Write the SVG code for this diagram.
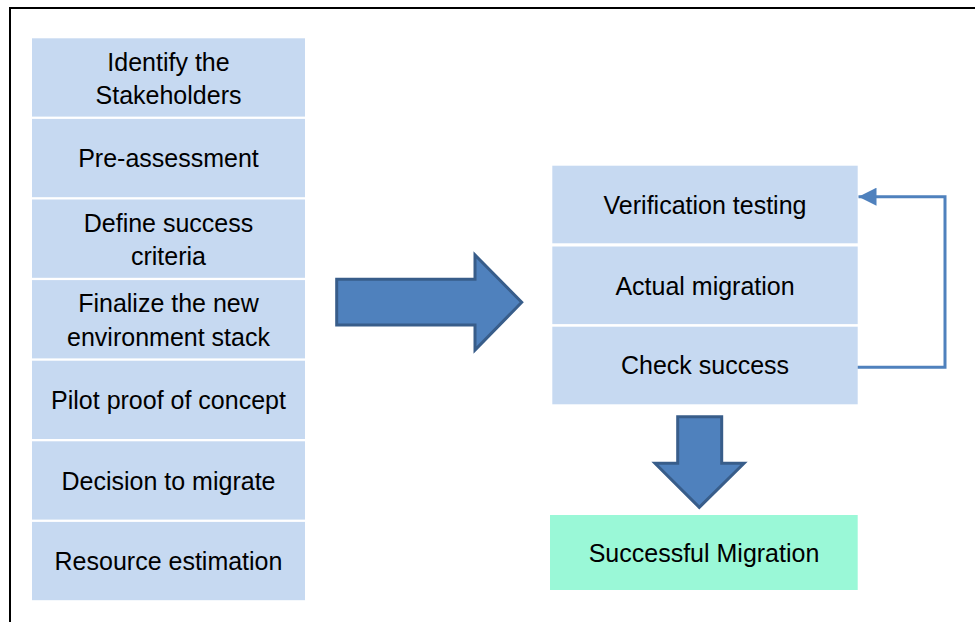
<svg xmlns="http://www.w3.org/2000/svg" width="975" height="622" viewBox="0 0 975 622">
<defs>
<style>
.box{fill:#C6D9F1;}
.done{fill:#9AF8D7;}
.t{font-family:"Liberation Sans",Arial,sans-serif;font-size:25px;fill:#000;text-anchor:middle;}
.big{fill:#4F81BD;stroke:#385D8A;stroke-width:3;stroke-linejoin:miter;}
.loop{fill:none;stroke:#4F81BD;stroke-width:3;}
</style>
<marker id="ah" markerUnits="userSpaceOnUse" markerWidth="20" markerHeight="18" refX="18" refY="9" orient="auto">
<path d="M0,0 L18,9 L0,18 Z" fill="#4F81BD"/>
</marker>
</defs>
<rect width="975" height="622" fill="#fff"/>
<path d="M10,623 V8 H976" fill="none" stroke="#000" stroke-width="2"/>

<g id="n1"><rect class="box" x="32" y="38.3" width="273" height="78.3"/><text class="t" x="168.5" y="70.5">Identify the</text><text class="t" x="168.5" y="104">Stakeholders</text></g>
<g id="n2"><rect class="box" x="32" y="118.9" width="273" height="78.3"/><text class="t" x="168.5" y="167">Pre-assessment</text></g>
<g id="n3"><rect class="box" x="32" y="199.5" width="273" height="78.3"/><text class="t" x="168.5" y="231.5">Define success</text><text class="t" x="168.5" y="265">criteria</text></g>
<g id="n4"><rect class="box" x="32" y="280.1" width="273" height="78.3"/><text class="t" x="168.5" y="312">Finalize the new</text><text class="t" x="168.5" y="345.5">environment stack</text></g>
<g id="n5"><rect class="box" x="32" y="360.7" width="273" height="78.3"/><text class="t" x="168.5" y="409">Pilot proof of concept</text></g>
<g id="n6"><rect class="box" x="32" y="441.3" width="273" height="78.3"/><text class="t" x="168.5" y="489.5">Decision to migrate</text></g>
<g id="n7"><rect class="box" x="32" y="521.9" width="273" height="78.3"/><text class="t" x="168.5" y="570">Resource estimation</text></g>

<g id="r1"><rect class="box" x="552.3" y="165.7" width="305.4" height="77.6"/><text class="t" x="705" y="214">Verification testing</text></g>
<g id="r2"><rect class="box" x="552.3" y="246.5" width="305.4" height="77.6"/><text class="t" x="705" y="295">Actual migration</text></g>
<g id="r3"><rect class="box" x="552.3" y="326.7" width="305.4" height="77.6"/><text class="t" x="705" y="374">Check success</text></g>

<g id="final"><rect class="done" x="550" y="515" width="307.7" height="75"/><text class="t" x="704" y="561.7">Successful Migration</text></g>

<g id="connectors">
<path class="big" d="M336.7,279.3 H475 V255 L521.7,302.3 L475,350 V325 H336.7 Z"/>
<path class="big" d="M677.7,416.7 H721.7 V463.3 H744 L699.3,507.3 L655,463.3 H677.7 Z"/>
<path class="loop" d="M857.7,367.3 H945 V196.7 H858.5" marker-end="url(#ah)"/>
</g>
</svg>
